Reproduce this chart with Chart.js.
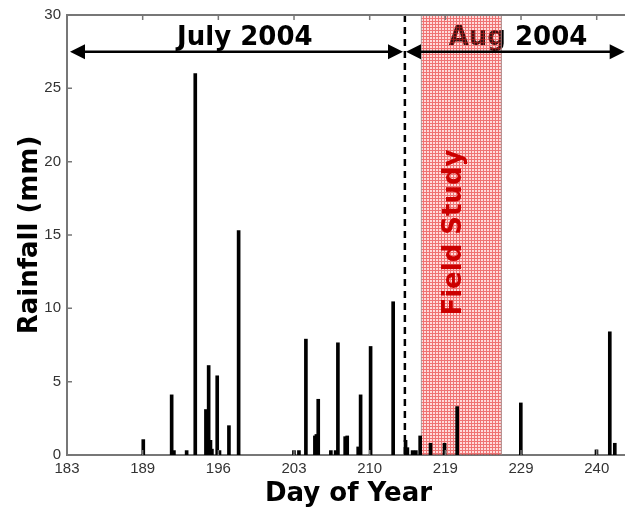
<!DOCTYPE html>
<html><head><meta charset="utf-8">
<script src="https://cdn.jsdelivr.net/npm/chart.js@4.4.0/dist/chart.umd.min.js"></script>
<style>html,body{margin:0;padding:0;overflow:hidden;background:#fff}#wrap{width:640px;height:507px;position:relative}</style>
</head><body><div id="wrap"><canvas id="c" width="640" height="507"></canvas></div>
<script>
// x axis: one unit = one labelled tick interval (labels are not evenly spaced in days)
const tickLabels = ['183','189','196','203','210','219','229','240'];
const yTicks = [0,5,10,15,20,25,30];
const barPos = [1.008,1.383,1.413,1.581,1.695,1.836,1.872,1.896,1.915,1.985,2.015,2.140,2.268,
  2.999,3.065,3.157,3.276,3.296,3.320,3.487,3.550,3.580,3.676,3.703,3.848,3.880,4.012,4.310,
  4.474,4.498,4.567,4.610,4.667,4.804,4.989,5.156,5.997,6.997,7.173,7.239];
const rainfall = [1.05,4.1,0.3,0.3,26.0,3.1,6.1,1.0,0.4,5.4,0.3,2.0,15.3,
  0.3,0.3,7.9,1.3,1.4,3.8,0.3,0.3,7.65,1.25,1.3,0.55,4.1,7.4,10.45,
  1.0,0.5,0.3,0.3,1.3,0.8,0.8,3.3,3.55,0.35,8.4,0.8];
const monthLabels = ['July 2004','Aug 2004'];
const monthLabelPos = [2.35, 5.96];
const monthLabelLevel = 27.95;
const julyArrow = [0.04, 4.44];
const augArrow = [4.48, 7.37];
const arrowLevel = 27.5;
const monthBoundary = 4.465;
const fieldStudy = [4.677, 5.746];
const fieldStudyLabel = 'Field Study';
const fieldStudyLabelPos = [5.112, 15.17];

function makePattern(ctx){
  const p = document.createElement('canvas'); p.width = 3; p.height = 3;
  const g = p.getContext('2d');
  g.fillStyle = 'rgba(255,90,90,0.22)'; g.fillRect(0,0,3,3);
  g.fillStyle = 'rgba(225,30,30,0.55)'; g.fillRect(0,0,3,1); g.fillRect(0,1,1,2);
  return ctx.createPattern(p,'repeat');
}

const overlay = {
  id:'overlay',
  beforeDatasetsDraw(chart){
    const {ctx, chartArea:a, scales:{x,y}} = chart;
    ctx.save();
    ctx.beginPath(); ctx.rect(a.left,a.top,a.right-a.left,a.bottom-a.top); ctx.clip();
    ctx.font = 'bold 26px "DejaVu Sans"'; ctx.fillStyle = '#000';
    ctx.textAlign = 'center'; ctx.textBaseline = 'alphabetic';
    monthLabels.forEach((t,i)=>ctx.fillText(t, x.getPixelForValue(monthLabelPos[i]), y.getPixelForValue(monthLabelLevel)));
    const x1 = x.getPixelForValue(fieldStudy[0]), x2 = x.getPixelForValue(fieldStudy[1]);
    ctx.fillStyle = makePattern(ctx);
    ctx.fillRect(x1, a.top, x2-x1, a.bottom-a.top);
    ctx.strokeStyle = 'rgba(150,150,150,0.8)'; ctx.lineWidth = 1;
    ctx.beginPath(); ctx.moveTo(x1+0.5,a.top); ctx.lineTo(x1+0.5,a.bottom); ctx.moveTo(x2-0.5,a.top); ctx.lineTo(x2-0.5,a.bottom); ctx.stroke();
    ctx.translate(x.getPixelForValue(fieldStudyLabelPos[0]), y.getPixelForValue(fieldStudyLabelPos[1]));
    ctx.rotate(-Math.PI/2);
    ctx.fillStyle = '#cc0000'; ctx.textBaseline = 'middle';
    ctx.fillText(fieldStudyLabel, 0, 0);
    ctx.restore();
  },
  afterDatasetsDraw(chart){
    const {ctx, chartArea:a, scales:{x,y}} = chart;
    ctx.save();
    const bx = x.getPixelForValue(monthBoundary);
    ctx.strokeStyle = '#000'; ctx.lineWidth = 2.5; ctx.setLineDash([7,5]);
    ctx.beginPath(); ctx.moveTo(bx, a.top); ctx.lineTo(bx, a.bottom); ctx.stroke();
    ctx.setLineDash([]);
    const ay = y.getPixelForValue(arrowLevel);
    function arrow(r){
      const p1 = x.getPixelForValue(r[0]), p2 = x.getPixelForValue(r[1]);
      ctx.lineWidth = 2.5; ctx.strokeStyle = '#000'; ctx.fillStyle = '#000';
      ctx.beginPath(); ctx.moveTo(p1+10, ay); ctx.lineTo(p2-10, ay); ctx.stroke();
      ctx.beginPath(); ctx.moveTo(p1, ay); ctx.lineTo(p1+15, ay-7.5); ctx.lineTo(p1+15, ay+7.5); ctx.closePath(); ctx.fill();
      ctx.beginPath(); ctx.moveTo(p2, ay); ctx.lineTo(p2-15, ay-7.5); ctx.lineTo(p2-15, ay+7.5); ctx.closePath(); ctx.fill();
    }
    arrow(julyArrow); arrow(augArrow);
    ctx.strokeStyle = '#777'; ctx.lineWidth = 2;
    ctx.beginPath(); ctx.moveTo(a.left, a.top); ctx.lineTo(a.right, a.top); ctx.lineTo(a.right, a.bottom); ctx.stroke();
    ctx.lineWidth = 1.5;
    ctx.beginPath();
    tickLabels.forEach((_,i)=>{ const px = x.getPixelForValue(i);
      ctx.moveTo(px, a.bottom); ctx.lineTo(px, a.bottom-5);
      ctx.moveTo(px, a.top); ctx.lineTo(px, a.top+5); });
    yTicks.forEach(v=>{ const py = y.getPixelForValue(v);
      ctx.moveTo(a.left, py); ctx.lineTo(a.left+5, py);
      ctx.moveTo(a.right, py); ctx.lineTo(a.right-5, py); });
    ctx.stroke();
    ctx.restore();
  }
};

new Chart(document.getElementById('c'), {
  type:'bar',
  data:{datasets:[{
    data: barPos.map((p,i)=>({x:p, y:rainfall[i]})),
    backgroundColor:'#000', borderWidth:0, barThickness:3
  }]},
  options:{
    responsive:false, animation:false, devicePixelRatio:1,
    layout:{padding:{top:15,right:10,left:0,bottom:0}},
    plugins:{legend:{display:false}, tooltip:{enabled:false}},
    scales:{
      x:{type:'linear', min:0, max:7.44, offset:false,
        afterBuildTicks:s=>{ s.ticks = tickLabels.map((_,i)=>({value:i})); },
        afterFit:s=>{ s.height = 52; },
        ticks:{autoSkip:false, maxRotation:0, padding:5, color:'#333',
          font:{family:'"Liberation Sans", Arial', size:15},
          callback:v=> tickLabels[v] !== undefined ? tickLabels[v] : ''},
        grid:{display:false, drawTicks:false, offset:false},
        border:{display:true, color:'#777', width:2},
        title:{display:true, text:'Day of Year', color:'#000', padding:{top:0,bottom:0},
          font:{family:'"DejaVu Sans"', size:26, weight:'bold', lineHeight:1}}
      },
      y:{min:0, max:30,
        afterBuildTicks:s=>{ s.ticks = yTicks.map(v=>({value:v})); },
        afterFit:s=>{ s.width = 67; },
        ticks:{padding:6, color:'#333', font:{family:'"Liberation Sans", Arial', size:15}},
        grid:{display:false, drawTicks:false},
        border:{display:true, color:'#777', width:2},
        title:{display:true, text:'Rainfall (mm)', color:'#000', padding:{top:17,bottom:0},
          font:{family:'"DejaVu Sans"', size:26, weight:'bold', lineHeight:1}}
      }
    }
  },
  plugins:[overlay]
});
</script></body></html>
